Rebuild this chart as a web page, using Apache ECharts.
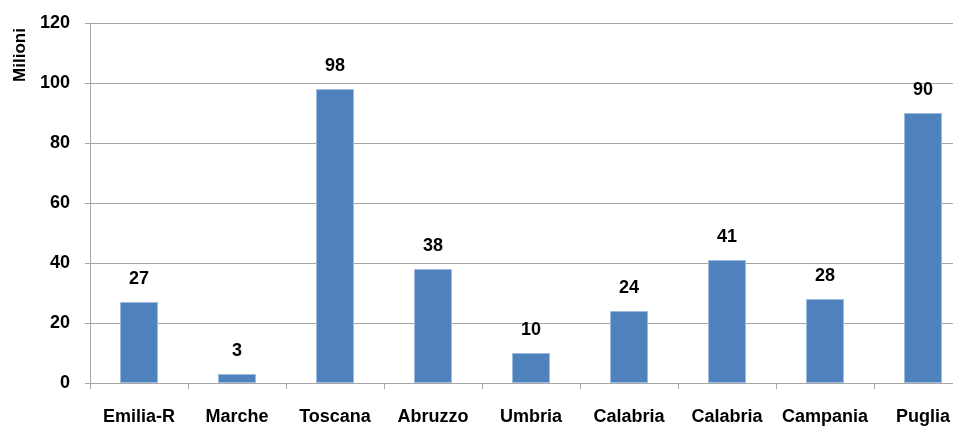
<!DOCTYPE html>
<html><head><meta charset="utf-8">
<script src="https://cdn.jsdelivr.net/npm/echarts@6/dist/echarts.min.js"></script>
<style>html,body{margin:0;padding:0;background:#fff;overflow:hidden;width:953px;height:426px}#c{width:972px;height:426px}</style>
</head><body><div id="c"></div>
<script>
const categories = ['Emilia-R','Marche','Toscana','Abruzzo','Umbria','Calabria','Calabria','Campania','Puglia'];
const values = [27, 3, 98, 38, 10, 24, 41, 28, 90];
const yTicks = {min: 0, max: 120, interval: 20};
const yName = 'Milioni';

const font = 'Liberation Sans, Arial, sans-serif';
const chart = echarts.init(document.getElementById('c'), null, {renderer: 'canvas'});
chart.setOption({
  animation: false,
  grid: {left: 90, top: 23, bottom: 43, right: 0, containLabel: false},
  graphic: [{
    type: 'text', x: 20, y: 55, rotation: Math.PI / 2,
    style: {text: yName, font: 'bold 17px ' + font, fill: '#000', align: 'center', verticalAlign: 'middle'}
  }],
  xAxis: {
    type: 'category', data: categories, boundaryGap: true,
    axisLine: {lineStyle: {color: '#a6a6a6', width: 1}},
    axisTick: {show: true, length: 6, lineStyle: {color: '#a6a6a6'}},
    axisLabel: {color: '#000', fontSize: 18, fontWeight: 'bold', fontFamily: font, margin: 25, interval: 0}
  },
  yAxis: {
    type: 'value', min: yTicks.min, max: yTicks.max, interval: yTicks.interval,
    axisLine: {show: true, lineStyle: {color: '#a6a6a6', width: 1}},
    axisTick: {show: true, length: 5, lineStyle: {color: '#a6a6a6'}},
    splitLine: {lineStyle: {color: '#a6a6a6', width: 1}},
    axisLabel: {color: '#000', fontSize: 18, fontWeight: 'bold', fontFamily: font, margin: 20}
  },
  series: [{
    type: 'bar', data: values, barWidth: 38,
    itemStyle: {color: '#4f81bd', borderColor: '#9dbbe0', borderWidth: 1},
    label: {show: true, position: 'top', distance: 14, color: '#000', fontSize: 18, fontWeight: 'bold', fontFamily: font}
  }]
});
</script></body></html>
